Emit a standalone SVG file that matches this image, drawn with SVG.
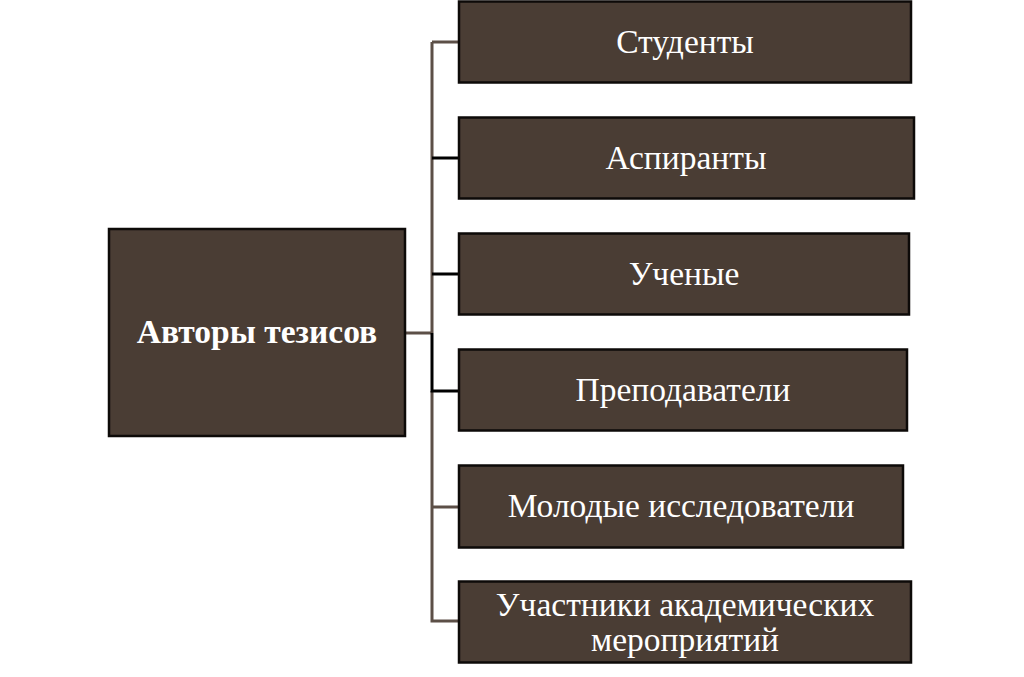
<svg xmlns="http://www.w3.org/2000/svg" width="1024" height="677" viewBox="0 0 1024 677">
<style>
.box{fill:#4a3d34;stroke:#0d0a08;stroke-width:2.5}
.t{font-family:"Liberation Serif","Times New Roman",serif;font-size:33.5px;fill:#ffffff;text-anchor:middle}
.b{font-weight:bold}
.c{fill:none;stroke:#5c4f47;stroke-width:3}
.k{fill:none;stroke:#000000;stroke-width:3}
</style>
<rect width="1024" height="677" fill="#ffffff"/>
<g id="connectors">
<path class="c" d="M405 333 H432 M432 42 V333 M432 391 V621 H459 M432 42 H459 M432 507 H459"/>
<path class="k" d="M432 158 H459 M432 274 H459 M432 333 V391 H459"/>
</g>
<g id="root">
<rect class="box" x="109" y="229" width="296" height="207"/>
<text class="t b" x="257" y="343">Авторы тезисов</text>
</g>
<g id="n1">
<rect class="box" x="459" y="1.5" width="452" height="81"/>
<text class="t" x="685" y="53">Студенты</text>
</g>
<g id="n2">
<rect class="box" x="459" y="117.5" width="455" height="81"/>
<text class="t" x="686" y="169">Аспиранты</text>
</g>
<g id="n3">
<rect class="box" x="459" y="233.5" width="450" height="81"/>
<text class="t" x="684" y="285">Ученые</text>
</g>
<g id="n4">
<rect class="box" x="459" y="349.5" width="448" height="81"/>
<text class="t" x="683" y="401">Преподаватели</text>
</g>
<g id="n5">
<rect class="box" x="459" y="465.5" width="444" height="82"/>
<text class="t" x="681" y="517">Молодые исследователи</text>
</g>
<g id="n6">
<rect class="box" x="459" y="581.5" width="452" height="81"/>
<text class="t" x="685" y="616">Участники академических</text>
<text class="t" x="685" y="651">мероприятий</text>
</g>
</svg>
